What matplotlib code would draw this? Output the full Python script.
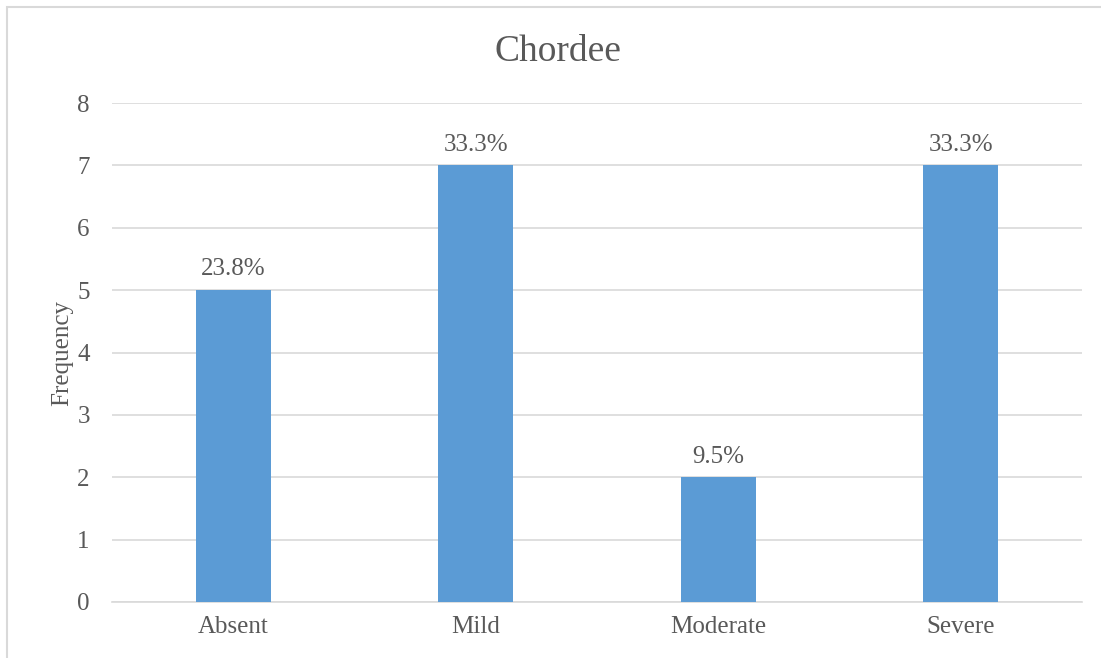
import matplotlib
matplotlib.use("Agg")
import matplotlib.pyplot as plt
from matplotlib.patches import Rectangle

categories = ["Absent", "Mild", "Moderate", "Severe"]
frequency = [5, 7, 2, 7]
labels = ["23.8%", "33.3%", "9.5%", "33.3%"]
yticks = [0, 1, 2, 3, 4, 5, 6, 7, 8]

plt.rcParams['font.family'] = ['Liberation Serif', 'DejaVu Serif']
text_color = "#595959"
grid_color = "#D9D9D9"
bar_color = "#5B9BD5"

fig = plt.figure(figsize=(11.01, 6.58), dpi=100)
fig.patches.append(Rectangle((7/1101, -0.1), 1.2, (1 - 7/658) + 0.1, transform=fig.transFigure,
                             fill=False, edgecolor=grid_color, linewidth=1.5))
ax = fig.add_axes([112/1101, 1 - 602/658, (1082 - 112)/1101, (602 - 103)/658])

x = list(range(len(categories)))
ax.bar(x, frequency, width=0.31, color=bar_color, zorder=3)
for xi, v, lab in zip(x, frequency, labels):
    ax.annotate(lab, (xi, v), xytext=(0, 7), textcoords="offset points",
                ha="center", va="bottom", fontsize=18, color=text_color)

ax.set_xlim(-0.5, len(categories) - 0.5)
ax.set_ylim(0, 8)
ax.set_yticks(yticks)
ax.set_xticks(x)
ax.set_xticklabels(categories)
ax.tick_params(axis='both', length=0, labelsize=18, colors=text_color)
ax.tick_params(axis='y', pad=16)
ax.tick_params(axis='x', pad=10)
ax.grid(axis='y', color=grid_color, linewidth=1.2, zorder=0)
for s in ["top", "right", "left"]:
    ax.spines[s].set_visible(False)
ax.spines["bottom"].set_color(grid_color)
ax.spines["bottom"].set_linewidth(1.2)
ax.set_ylabel("Frequency", fontsize=18, color=text_color, labelpad=3)
fig.text(558/1101, 1 - 52/658, "Chordee", ha="center", va="center", fontsize=27, color=text_color)

fig.savefig("out.png", dpi=100)
